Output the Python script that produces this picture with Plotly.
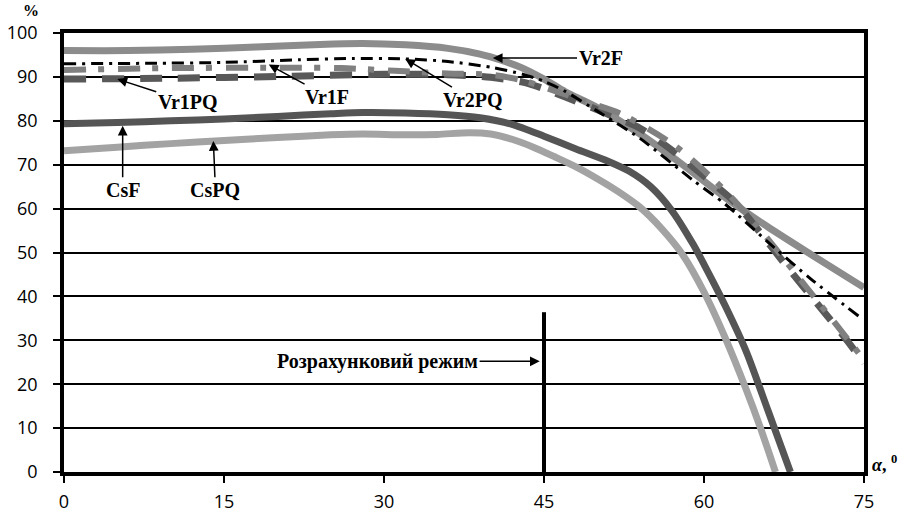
import plotly.graph_objects as go

# ---- data ----
vr2f_x = [0, 6, 12, 18, 24, 28, 32, 36, 39, 41, 43, 45, 47, 50, 54, 58, 62, 66, 70, 75]
vr2f_y = [96, 96, 96.3, 96.8, 97.4, 97.6, 97.3, 96.5, 95.2, 93.8, 92, 89.5, 86.6, 83, 77, 70, 62.5, 55.8, 49.6, 42]

csf_x = [0, 5, 10, 15, 20, 25, 28, 32, 36, 39, 42, 45, 48, 51, 53, 55, 57, 59, 60, 62, 64, 66, 68.1]
csf_y = [79.3, 79.6, 80, 80.4, 81, 81.6, 81.9, 81.8, 81.4, 80.7, 79.2, 76.5, 73.6, 70.8, 68.5, 65, 59.5, 51.8, 47.3, 37.8, 27.2, 14, 0]

cspq_x = [0, 5, 10, 15, 20, 25, 28, 32, 35, 38, 40, 42, 44, 46, 48, 50, 52, 54, 56, 58, 60, 62, 64, 65.3, 66.7]
cspq_y = [73.2, 74, 74.8, 75.5, 76.2, 76.8, 77, 76.8, 76.9, 77.3, 77, 75.8, 74, 71.8, 69.5, 66.8, 63.8, 60.3, 55.5, 49.5, 41, 30.5, 18.5, 10, 0]

vr1pq_x = [0, 10, 20, 30, 36, 40, 43, 45, 47, 50, 54, 57, 60, 63, 65.6, 68, 70.6, 73.4, 75]
vr1pq_y = [89.5, 89.7, 90.1, 90.6, 90.5, 89.9, 88.8, 87.3, 85.4, 82.5, 78.3, 73.3, 67.4, 61.2, 53.5, 46.1, 38.4, 30, 24.8]

vr1f_x = [0, 10, 20, 26, 31, 36, 40, 43, 46, 49, 52.2, 57.3, 61.8, 65, 69.7, 72.1, 75]
vr1f_y = [91.6, 92, 92.1, 92, 91.4, 90.8, 90.5, 89.2, 86.8, 84.3, 81.6, 74.3, 64.5, 56, 41.8, 34.5, 25.5]

vr2pq_x = [0, 8, 15, 22, 27, 32, 36, 40, 43, 45, 47, 50, 54, 59, 62, 66.5, 70, 74.5]
vr2pq_y = [93, 93.1, 93.3, 93.9, 94.2, 94.1, 93.5, 92.2, 90.6, 89, 86.7, 82.2, 76, 66.4, 61, 51.3, 44, 35.5]

design_alpha = 45
design_height = 36.4

x_ticks = [0, 15, 30, 45, 60, 75]
y_ticks = [0, 10, 20, 30, 40, 50, 60, 70, 80, 90, 100]

fig = go.Figure()

def add(xs, ys, color, width, dash="solid"):
    fig.add_trace(go.Scatter(x=xs, y=ys, mode="lines",
                             line=dict(color=color, width=width, dash=dash,
                                       shape="spline", smoothing=0.7),
                             showlegend=False, hoverinfo="skip"))

add(vr2f_x, vr2f_y, "#8c8c8c", 7)
add(csf_x, csf_y, "#555555", 7)
add(cspq_x, cspq_y, "#a3a3a3", 7)
add(vr1pq_x, vr1pq_y, "#595959", 7, "22px,16px")
add(vr1f_x, vr1f_y, "#808080", 6, "22px,12px,6px,14px")
add(vr2pq_x, vr2pq_y, "#000000", 3, "12px,6px,3px,6px")

# design regime marker
fig.add_trace(go.Scatter(x=[design_alpha, design_alpha], y=[0, design_height], mode="lines",
                         line=dict(color="black", width=4), showlegend=False, hoverinfo="skip"))

lab_font = dict(family="Liberation Serif", size=20, color="black")

def label(text, tip, pos):
    fig.add_annotation(x=tip[0], y=tip[1], ax=pos[0], ay=pos[1],
                       xref="x", yref="y", axref="x", ayref="y",
                       text="<b>%s</b>" % text, font=lab_font,
                       showarrow=True, arrowhead=2, arrowsize=1.3, arrowwidth=1.5,
                       arrowcolor="black", standoff=0)

label("Vr2F", (40.2, 94.3), (50.3, 94.3))
label("Vr2PQ", (32, 94.1), (38.3, 84.8))
label("Vr1F", (19.2, 92.8), (24.7, 85.5))
label("Vr1PQ", (5, 89.5), (11.6, 84.3))
label("CsF", (5.5, 78.9), (5.5, 64.3))
label("CsPQ", (14, 75.4), (14.2, 64.3))
label("Розрахунковий режим", (44.6, 25.2), (29.4, 25.2))

fig.add_annotation(x=-0.041, y=1.052, xref="paper", yref="paper", text="<b>%</b>",
                   xanchor="center", yanchor="middle",
                   showarrow=False, font=dict(family="Liberation Serif", size=16, color="black"))
fig.add_annotation(x=1.026, y=0.02, xref="paper", yref="paper",
                   text="<b><i>α</i>, <sup>0</sup></b>", xanchor="center", yanchor="middle",
                   showarrow=False, font=dict(family="Liberation Serif", size=18, color="black"))

fig.update_layout(
    width=900, height=515,
    margin=dict(l=64, r=36, t=33, b=43, autoexpand=False),
    paper_bgcolor="white", plot_bgcolor="white",
    font=dict(family="Open Sans", size=18, color="black"),
    xaxis=dict(range=[0, 75], tickvals=x_ticks, showgrid=False, zeroline=False,
               showline=True, linecolor="black", linewidth=3.5, mirror=True,
               ticks="outside", ticklen=7, tickwidth=2, tickcolor="black",
               ticklabelstandoff=4, automargin=False),
    yaxis=dict(range=[0, 100], tickvals=y_ticks, showgrid=True, gridcolor="black",
               gridwidth=2, zeroline=False,
               showline=True, linecolor="black", linewidth=3.5, mirror=True,
               ticks="outside", ticklen=7, tickwidth=2, tickcolor="black",
               ticklabelstandoff=12, automargin=False),
)

fig.write_html("out.html", config={"displayModeBar": False},
               post_script="document.body.style.margin='0px';")
